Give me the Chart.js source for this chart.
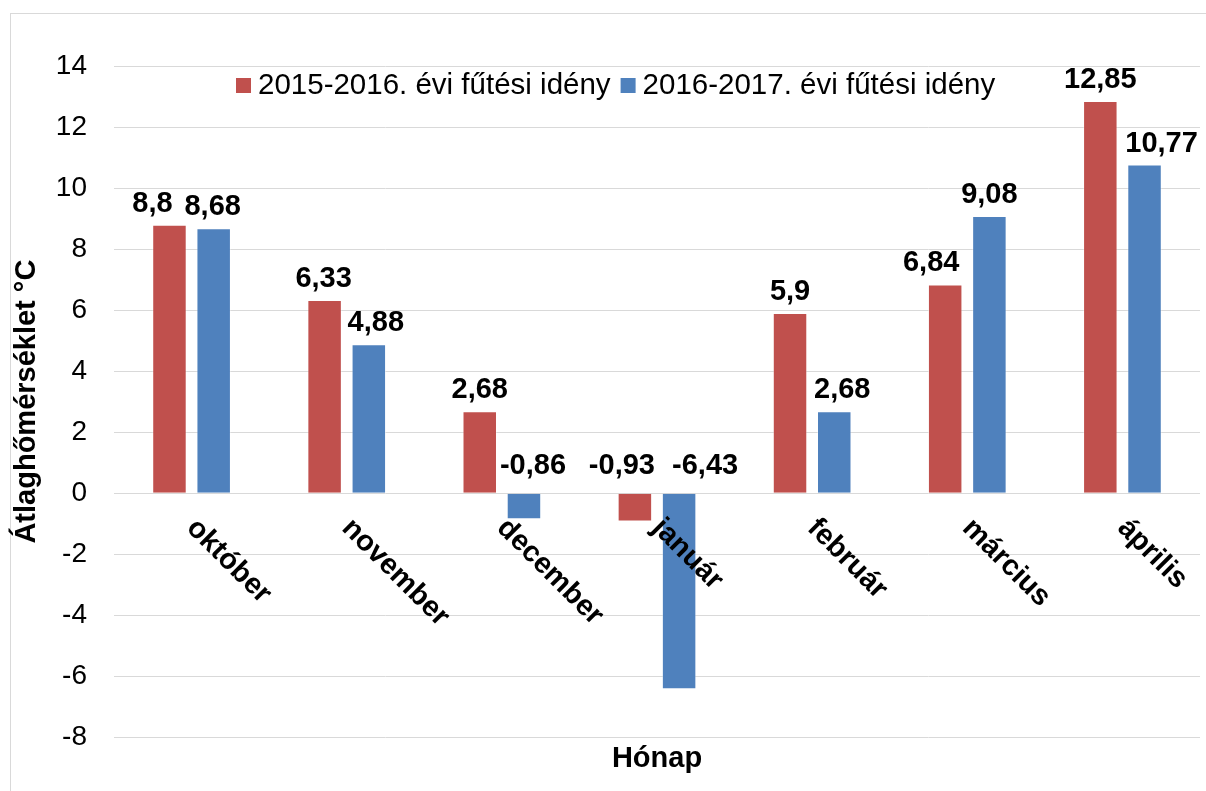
<!DOCTYPE html>
<html>
<head>
<meta charset="utf-8">
<script src="https://cdn.jsdelivr.net/npm/chart.js@4/dist/chart.umd.min.js"></script>
<style>
    body { margin: 0; background: #fff; }
    #wrap { position: relative; width: 1206px; height: 791px; }
    #frame { position: absolute; left: 10px; top: 13px; width: 1200px; height: 800px; border: 1px solid #d9d9d9; }
    #chart { position: absolute; left: 0; top: 0; }
</style>
</head>
<body>
<div id="wrap">
    <div id="frame"></div>
    <canvas id="chart" width="1206" height="791"></canvas>
</div>
<script>
// Chart data
const months = ['október', 'november', 'december', 'január', 'február', 'március', 'április'];
const season1 = [8.8, 6.33, 2.68, -0.93, 5.9, 6.84, 12.85];
const season2 = [8.68, 4.88, -0.86, -6.43, 2.68, 9.08, 10.77];
const seriesNames = ['2015-2016. évi fűtési idény', '2016-2017. évi fűtési idény'];
const yTicks = [-8, -6, -4, -2, 0, 2, 4, 6, 8, 10, 12, 14];

const FONT = '"Liberation Sans", Arial, sans-serif';

// Horizontal nudges of the value labels (moved by hand in the original)
const labelShift = [
    [-17, -1, 0, -13, 0, -14, 0],
    [-1, 7, 9, 26, 8, 0, 17]
];

// Value labels above the bars, comma decimals
const valueLabels = {
    id: 'valueLabels',
    afterDatasetsDraw(chart) {
        const ctx = chart.ctx;
        const zeroY = chart.scales.y.getPixelForValue(0);
        ctx.save();
        ctx.font = 'bold 29px ' + FONT;
        ctx.fillStyle = '#000';
        ctx.textAlign = 'center';
        ctx.textBaseline = 'alphabetic';
        chart.data.datasets.forEach((ds, i) => {
            chart.getDatasetMeta(i).data.forEach((bar, j) => {
                const v = ds.data[j];
                const y = v >= 0 ? bar.y - 13 : zeroY - 19;
                ctx.fillText(String(v).replace('.', ','), bar.x + labelShift[i][j], y);
            });
        });
        ctx.restore();
    }
};

// Rotated month names sitting under the zero line
const monthLabels = {
    id: 'monthLabels',
    afterDatasetsDraw(chart) {
        const ctx = chart.ctx;
        const xs = chart.scales.x;
        const zeroY = chart.scales.y.getPixelForValue(0);
        ctx.save();
        ctx.font = 'bold 29px ' + FONT;
        ctx.fillStyle = '#000';
        ctx.textAlign = 'left';
        ctx.textBaseline = 'alphabetic';
        chart.data.labels.forEach((label, i) => {
            ctx.save();
            ctx.translate(xs.getPixelForValue(i) - 6, zeroY + 36);
            ctx.rotate(Math.PI / 4);
            ctx.fillText(label, 0, 0);
            ctx.restore();
        });
        ctx.restore();
    }
};

// Legend inside the top of the plot area
const innerLegend = {
    id: 'innerLegend',
    afterDraw(chart) {
        const ctx = chart.ctx;
        const area = chart.chartArea;
        let x = area.left + 122;
        const y = 86;
        ctx.save();
        ctx.font = '29.5px ' + FONT;
        ctx.textBaseline = 'middle';
        ctx.textAlign = 'left';
        chart.data.datasets.forEach(ds => {
            ctx.fillStyle = ds.backgroundColor;
            ctx.fillRect(x, y - 8, 15, 15);
            ctx.fillStyle = '#000';
            ctx.fillText(ds.label, x + 22, y);
            x += 22 + ctx.measureText(ds.label).width + 10;
        });
        ctx.restore();
    }
};

const ctx = document.getElementById('chart').getContext('2d');
new Chart(ctx, {
    type: 'bar',
    data: {
        labels: months,
        datasets: [{
            label: seriesNames[0],
            data: season1,
            backgroundColor: '#C0504D',
            borderColor: 'rgba(255,255,255,0.35)',
            borderWidth: 1,
            categoryPercentage: 0.57,
            barPercentage: 0.78
        }, {
            label: seriesNames[1],
            data: season2,
            backgroundColor: '#4F81BD',
            borderColor: 'rgba(255,255,255,0.35)',
            borderWidth: 1,
            categoryPercentage: 0.57,
            barPercentage: 0.78
        }]
    },
    options: {
        responsive: false,
        animation: false,
        layout: {
            padding: { left: 10, right: 6, top: 66, bottom: 11 }
        },
        plugins: {
            legend: { display: false },
            tooltip: { enabled: false }
        },
        scales: {
            x: {
                grid: { display: false, drawTicks: false },
                border: { display: false },
                ticks: { display: false },
                title: {
                    display: true,
                    text: 'Hónap',
                    color: '#000',
                    font: { family: FONT, size: 29, weight: 'bold' },
                    padding: { top: 4, bottom: 4 }
                }
            },
            y: {
                min: yTicks[0],
                max: yTicks[yTicks.length - 1],
                afterBuildTicks(scale) {
                    scale.ticks = yTicks.map(v => ({ value: v }));
                },
                afterFit(scale) {
                    scale.width = 104;
                },
                grid: { color: '#d9d9d9', lineWidth: 1, drawTicks: false },
                border: { display: false },
                ticks: {
                    color: '#000',
                    padding: 27,
                    font: { family: FONT, size: 28 }
                },
                title: {
                    display: true,
                    text: 'Átlaghőmérséklet °C',
                    color: '#000',
                    font: { family: FONT, size: 29, weight: 'bold' },
                    padding: { top: 0, bottom: 0 }
                }
            }
        }
    },
    plugins: [valueLabels, monthLabels, innerLegend]
});
</script>
</body>
</html>
